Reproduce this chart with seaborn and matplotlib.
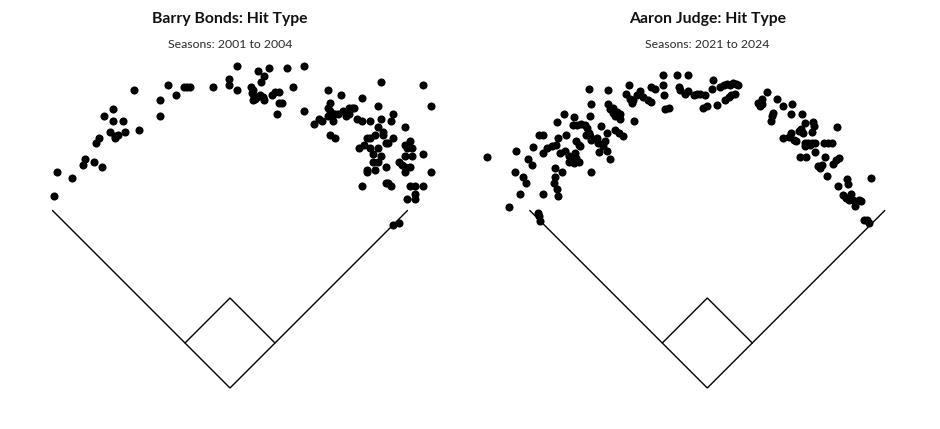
import numpy as np
import pandas as pd
import matplotlib
matplotlib.use('Agg')
import matplotlib.pyplot as plt
import seaborn as sns

# hit locations in feet, home plate at (0, 0)
bonds_x = [-249, -245, -223, -208, -205, -192, -181, -189, -185, -178, -166, -166, -151, -170,
           -163, -159, -163, -148, -136, -129, -99, -99, -87, -76, -65, -61, -57, -24, -1, -1,
           10, 10, 29, 33, 40, 48, 44, 55, 81, 104, 89, 104, 66, 31, 34, 33, 38, 42, 46, 48, 36,
           59, 63, 70, 70, 74, 138, 157, 187, 213, 273, 284, 209, 119, 126, 130, 141, 138, 141,
           145, 138, 145, 149, 153, 160, 164, 168, 172, 175, 168, 179, 141, 149, 187, 198, 213,
           209, 216, 228, 231, 247, 194, 198, 205, 183, 190, 198, 202, 209, 213, 220, 224, 231,
           216, 202, 209, 194, 194, 205, 220, 239, 243, 247, 254, 247, 247, 254, 250, 258, 247,
           258, 273, 284, 187, 220, 228, 224, 254, 262, 273, 262, 262, 250, 231, 239]
bonds_y = [271, 305, 297, 316, 324, 320, 313, 346, 354, 384, 395, 377, 377, 362,
           356, 358, 354, 362, 422, 365, 407, 384, 429, 414, 426, 426, 426, 426, 437, 429,
           456, 422, 426, 422, 448, 441, 433, 452, 452, 455, 426, 392, 388, 417, 412, 407, 411,
           414, 411, 407, 409, 414, 418, 418, 403, 403, 422, 414, 410, 433, 429, 399, 399, 373,
           380, 377, 403, 396, 392, 388, 384, 377, 388, 388, 392, 384, 396, 396, 396, 388, 380,
           358, 354, 377, 377, 380, 369, 362, 377, 388, 369, 354, 354, 358, 339, 343, 339, 331,
           339, 328, 346, 346, 354, 358, 320, 320, 309, 305, 309, 313, 320, 316, 313, 313, 305,
           343, 350, 339, 339, 328, 328, 331, 305, 286, 290, 286, 290, 286, 286, 286, 275, 267,
           267, 230, 234]

judge_x = [-311, -280, -271, -272, -261, -257, -265, -253, -248, -247, -233, -239, -238, -236,
           -238, -233, -233, -226, -220, -214, -212, -211, -203, -200, -215, -206, -215, -217,
           -213, -211, -208, -201, -195, -192, -187, -185, -181, -189, -195, -188, -190, -184,
           -178, -173, -186, -182, -180, -170, -172, -168, -166, -168, -165, -166, -165, -164,
           -156, -154, -150, -153, -147, -145, -142, -142, -138, -140, -140, -138, -133, -134,
           -128, -131, -124, -124, -131, -125, -119, -104, -111, -115, -110, -107, -105, -100,
           -95, -91, -84, -80, -79, -74, -62, -62, -61, -60, -54, -43, -27, -40, -38, -32, -28,
           -19, -15, -11, -3, -6, 0, 8, 7, 14, 18, 23, 28, 32, 37, 41, 44, 25, 31, 34, 39,
           71, 74, 77, 78, 84, 98, 107, 120, 93, 91, 90, 118, 134, 138, 150, 151, 183, 107, 115,
           119, 122, 126, 129, 132, 136, 138, 143, 148, 152, 138, 145, 148, 165, 170, 177, 131,
           140, 152, 156, 159, 162, 166, 169, 178, 182, 186, 185, 198, 199, 192, 196, 201, 203,
           206, 209, 214, 218, 232, 222, 226, 229]
judge_y = [327, 256, 335, 305, 299, 290, 275, 324, 316, 341, 274, 248, 243, 236,
           358, 358, 333, 339, 342, 343, 376, 353, 388, 358, 311, 306, 299, 290,
           281, 272, 333, 335, 328, 321, 333, 325, 319, 318, 320, 383, 372, 372,
           373, 372, 349, 344, 342, 368, 358, 361, 356, 423, 402, 384, 306, 351,
           354, 346, 370, 334, 342, 349, 335, 361, 324, 422, 402, 394, 396, 389,
           391, 384, 387, 380, 365, 361, 357, 377, 429, 416, 409, 403, 408, 415,
           420, 412, 408, 404, 426, 423, 443, 429, 415, 395, 396, 443, 442, 426, 421, 416, 420,
           415, 416, 416, 415, 396, 399, 436, 423, 400, 426, 428, 430, 429, 432, 430, 428, 408,
           412, 415, 416,
           403, 399, 401, 409, 418, 409, 399, 401, 389, 385, 377, 388, 387, 375, 376, 370, 369,
           354, 355, 361, 351, 349, 363, 366, 361, 346, 346, 346, 346, 342, 343, 362, 346, 347,
           346, 327, 326, 334, 314, 311, 316, 327, 300, 317, 323, 325, 285, 295, 288, 273, 269,
           266, 275, 266, 258, 266, 265, 297, 238, 237, 234]

panels = [
    ('Barry Bonds: Hit Type', 'Seasons: 2001 to 2004', bonds_x, bonds_y),
    ('Aaron Judge: Hit Type', 'Seasons: 2021 to 2024', judge_x, judge_y),
]

FOUL = 355.0
BASE = 90.0

sns.set_style('white')
plt.rcParams['font.family'] = ['Lato', 'DejaVu Sans']

W, H = 940, 429
fig = plt.figure(figsize=(W / 100, H / 100), dpi=100)

px_per_ft = 0.7071
xlim = (-320, 320)
ylim = (-40, 480)
home_px = [230.0, 707.3]
home_py = 41.0  # from bottom

for (title, sub, xs, ys), hx in zip(panels, home_px):
    aw = (xlim[1] - xlim[0]) * px_per_ft
    ah = (ylim[1] - ylim[0]) * px_per_ft
    left = hx + xlim[0] * px_per_ft
    bottom = home_py + ylim[0] * px_per_ft
    ax = fig.add_axes([left / W, bottom / H, aw / W, ah / H])

    d = FOUL / np.sqrt(2)
    b = BASE / np.sqrt(2)
    ax.plot([-d, 0, d], [d, 0, d], color='black', lw=1.0, solid_joinstyle='miter')
    ax.plot([-b, 0, b], [b, 2 * b, b], color='black', lw=1.0, solid_joinstyle='miter')

    df = pd.DataFrame({'x': xs, 'y': ys})
    sns.scatterplot(data=df, x='x', y='y', ax=ax, color='black', s=34,
                    linewidth=0, legend=False, zorder=3)

    ax.set_xlim(*xlim)
    ax.set_ylim(*ylim)
    ax.set_axis_off()

    fig.text(hx / W, 1 - 18.5 / H, title, ha='center', va='center',
             fontsize=11.3, fontweight='bold', color='#111111')
    fig.text(hx / W, 1 - 44 / H, sub, ha='center', va='center',
             fontsize=8.8, color='#2a2a2a')

fig.savefig('out.png', dpi=100, facecolor='white')
